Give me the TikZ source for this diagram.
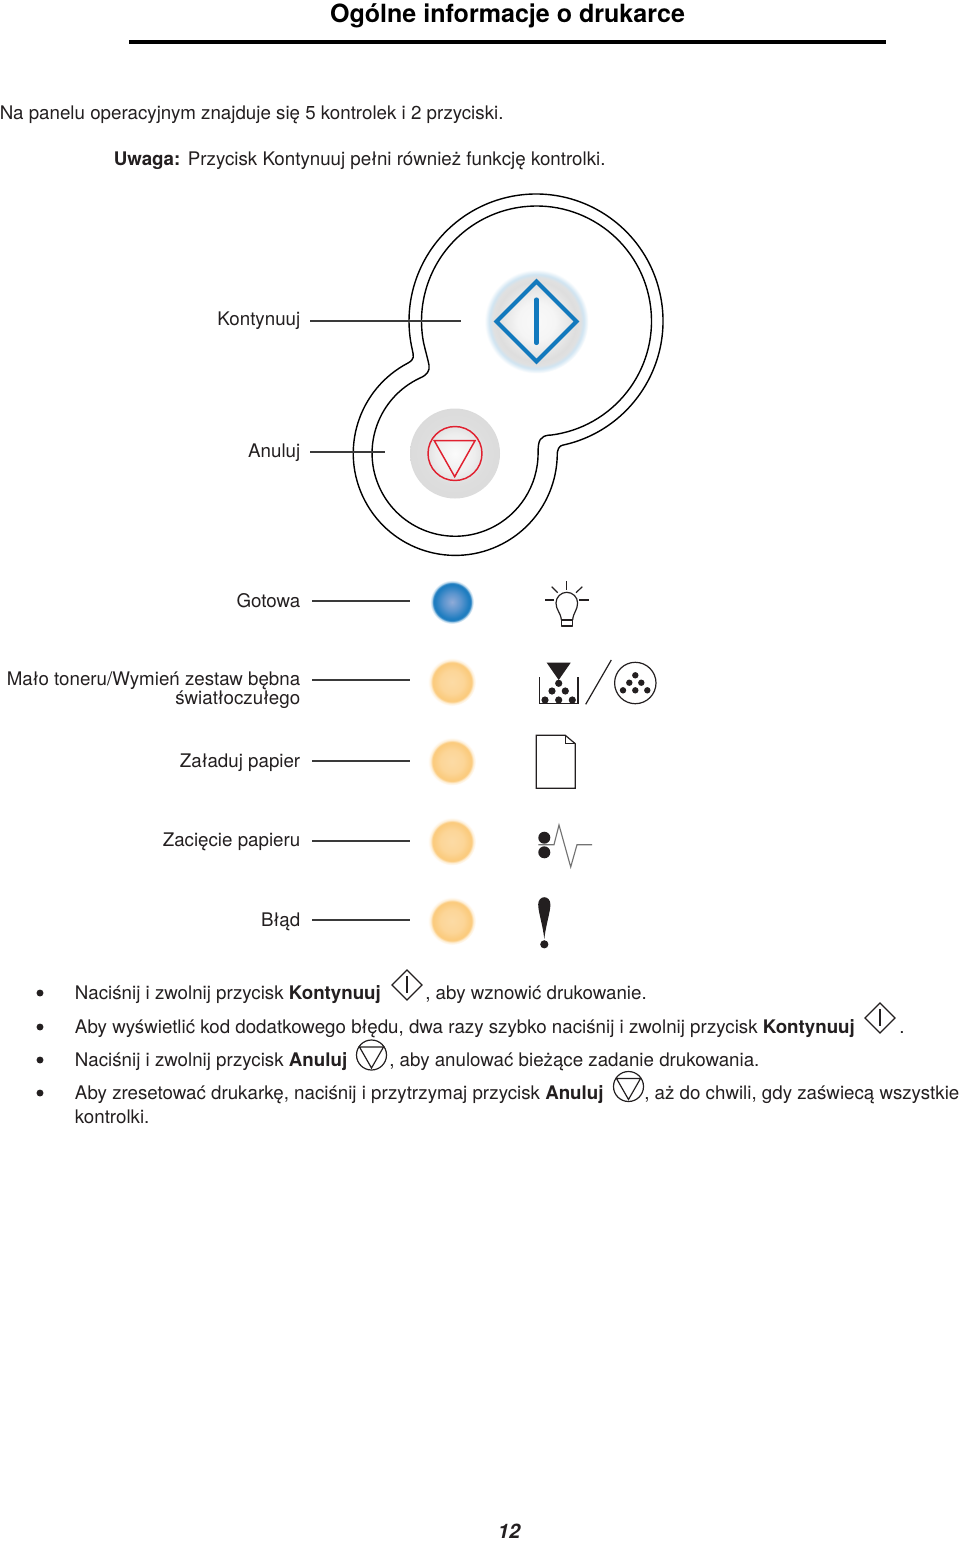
\documentclass[tikz,border=0pt]{standalone}
\usepackage{fontspec}
\setmainfont{TeX Gyre Heros}
\definecolor{ink}{HTML}{231F20}
\definecolor{lead}{HTML}{3A3A3A}
\definecolor{ledblue}{HTML}{1279BD}
\definecolor{cancelred}{HTML}{E0202F}
\pgfdeclareradialshading{contshade}{\pgfpointorigin}{color(0bp)=(white!95!gray); color(9bp)=(white!92!gray); color(19bp)=(black!13); color(21bp)=(black!12); color(22.6bp)=(ledblue!20); color(25bp)=(white); color(50bp)=(white)}
\pgfdeclareradialshading{cancshade}{\pgfpointorigin}{color(0bp)=(white!97!gray); color(11bp)=(black!7); color(17bp)=(black!13); color(25bp)=(black!14); color(50bp)=(black!14)}
\definecolor{ledb}{HTML}{1F7DC0}
\definecolor{ledc}{HTML}{8FABD8}
\definecolor{ledm}{HTML}{5C95CE}
\pgfdeclareradialshading{blueled}{\pgfpointorigin}{color(0bp)=(ledc); color(10bp)=(ledm); color(19bp)=(ledb); color(21.2bp)=(ledb); color(23bp)=(ledb!30!white); color(25bp)=(white); color(50bp)=(white)}
\definecolor{ledo}{HTML}{FBCB7E}
\pgfdeclareradialshading{orangeled}{\pgfpointorigin}{color(0bp)=(ledo!70!white); color(12bp)=(ledo!80!white); color(19bp)=(ledo); color(20.2bp)=(ledo); color(22.5bp)=(ledo!30!white); color(25bp)=(white); color(50bp)=(white)}
\tikzset{
  x=0.75pt,y=-0.75pt,
  bodytext/.style={font=\fontsize{14.05}{16}\selectfont,text=ink,inner sep=0pt},
  txtl/.style={bodytext,anchor=base west},
  txtr/.style={bodytext,anchor=base east},
  bul/.style={circle,fill=ink,inner sep=0pt,minimum size=5.2pt},
  leadline/.style={draw=lead,line width=0.8pt},
  shell/.style={draw=black,line width=1.05pt},
  iconline/.style={draw=ink,line width=0.9pt},
  minidot/.style={fill=ink},
}
\newcommand{\minidiamond}[2]{%
  \draw[iconline,line join=miter] (#1,#2-15) -- (#1+15,#2) -- (#1,#2+15) -- (#1-15,#2) -- cycle;
  \draw[iconline] (#1,#2-9) -- (#1,#2+8);}
\newcommand{\minicancel}[2]{%
  \draw[iconline] (#1,#2) circle[radius=15];
  \draw[iconline,line join=miter] (#1-12,#2-8) -- (#1+12,#2-8) -- (#1,#2+13) -- cycle;}
\begin{document}
\begin{tikzpicture}
\useasboundingbox (0,0) rectangle (960,1542);
\fill[white] (0,0) rectangle (960,1542);

% heading
\node[anchor=base,inner sep=0pt,text=black,font=\fontsize{18.8}{22}\selectfont\bfseries] (title) at (507.5,22) {Ogólne informacje o drukarce};
\coordinate (ruleL) at (129,42); \coordinate (ruleR) at (886,42);
\draw[black,line width=2.7pt] (ruleL) -- (ruleR);

\node[txtl] (intro) at (-0.5,119) {Na panelu operacyjnym znajduje się 5 kontrolek i 2 przyciski.};
\node[txtl] (uwaga) at (113.5,165) {\bfseries Uwaga:};
\node[txtl] (uwagat) at (187.5,165) {Przycisk Kontynuuj pełni również funkcję kontrolki.};

% outline of the panel
\path[shell] (536,321)+(77.7:127) arc[start angle=77.7,end angle=-193.2,radius=127]
  .. controls (413.5,356) and (415,359) .. (408,363)
  arc[start angle=242.4,end angle=2,radius=102]
  .. controls (557,449) and (559,446) .. (563,445);
\path[shell] (536.5,321)+(83.2:115) arc[start angle=83.2,end angle=-191,radius=115]
  .. controls (426,353) and (428,360) .. (429,365)
  .. controls (430,371) and (427,375) .. (420,378)
  arc[start angle=245,end angle=0,radius=83]
  .. controls (538,440) and (540,436) .. (550,435);

% buttons
\shade[shading=contshade] (536.5,321.5) circle[radius=52];
\draw[ledblue,line width=3.1pt,line join=miter] (536.5,281.5) -- (576.5,321.5) -- (536.5,361.5) -- (496.5,321.5) -- cycle;
\draw[ledblue,line width=3.1pt,line cap=round] (536.5,299.5) -- (536.5,343);
\shade[shading=cancshade] (455,453.5) circle[radius=45];
\draw[cancelred,line width=1.1pt] (455,453.5) circle[radius=27];
\draw[cancelred,line width=1.1pt,line join=miter] (434.3,440.7) -- (475,440.7) -- (454.7,476.7) -- cycle;

% LEDs
\shade[shading=blueled] (452,602) circle[radius=22];
\foreach \ly/\nm in {682/a,761.5/b,841.5/c,921/d}
  \shade[shading=orangeled] (452,\ly) circle[radius=24];

% labels
\node[txtr] (lKont) at (300.5,325) {Kontynuuj};
\node[txtr] (lAnul) at (300.5,457) {Anuluj};
\node[txtr] (lGot) at (300.5,607) {Gotowa};
\node[txtr] (lMalo) at (300.5,685) {Mało toneru/Wymień zestaw bębna};
\node[txtr] (lSwia) at (300.5,704) {światłoczułego};
\node[txtr] (lZal) at (300.5,767) {Załaduj papier};
\node[txtr] (lZac) at (300.5,846) {Zacięcie papieru};
\node[txtr] (lBlad) at (300.5,926) {Błąd};

% leaders
\coordinate (a1) at (310,321); \coordinate (a2) at (461,321);
\coordinate (b1) at (310,452); \coordinate (b2) at (385,452);
\coordinate (c1) at (312,601); \coordinate (c2) at (410,601);
\coordinate (d1) at (312,680); \coordinate (d2) at (410,680);
\coordinate (e1) at (312,761); \coordinate (e2) at (410,761);
\coordinate (f1) at (312,841); \coordinate (f2) at (410,841);
\coordinate (g1) at (312,920); \coordinate (g2) at (410,920);
\foreach \p/\q in {a1/a2,b1/b2,c1/c2,d1/d2,e1/e2,f1/f2,g1/g2}
  \path[leadline] (\p) -- (\q);

% bulb
\draw[iconline,line join=round] (561.4,620) -- (561.4,626) -- (572.6,626) -- (572.6,620) -- cycle;
\draw[iconline] (561.4,620) .. controls (560.5,612) and (556,610) .. (556,603)
  .. controls (556,597) and (561,592.3) .. (566.8,592.3)
  .. controls (572.6,592.3) and (577.6,597) .. (577.6,603)
  .. controls (577.6,610) and (573.5,612) .. (572.6,620);
\draw[iconline] (566.8,581) -- (566.8,590);
\draw[iconline] (545,600) -- (554,600);
\draw[iconline] (579.3,600) -- (588.7,600);
\draw[iconline] (551.7,586.7) -- (557.7,592.7);
\draw[iconline] (582.3,586.7) -- (576,592.7);

% toner
\fill[ink] (546.7,662.7) -- (570.7,662.7) -- (558.7,680) -- cycle;
\foreach \dx/\dy in {558.7/683.3,552/691,565.3/691,545/700,558.7/700,572.3/700}
  \fill[minidot] (\dx,\dy) circle[radius=3.6];
\draw[iconline,line join=miter] (539.3,677.3) -- (539.3,703.7) -- (578,703.7) -- (578,677.3);
\draw[iconline] (585.7,704.3) -- (611.3,660);
\draw[iconline] (635.3,683) circle[radius=20.7];
\foreach \dx/\dy in {635.3/675.3,629.3/682.7,641.3/682.7,623/690.3,635.3/690.3,647.3/690.3}
  \fill[minidot] (\dx,\dy) circle[radius=3.2];

% paper
\draw[iconline,line join=miter] (536.3,735.3) -- (565.3,735.3) -- (575.3,743.7) -- (575.3,788.3) -- (536.3,788.3) -- cycle;
\draw[iconline,line join=miter] (565.3,735.3) -- (565.3,743.7) -- (575.3,743.7);

% jam
\draw[draw=black!55,line width=0.85pt,line join=miter] (538.3,844.7) -- (554,844.7) -- (559,825) -- (570.7,867) -- (577,844.7) -- (592,844.7);
\fill[minidot] (544.3,837.7) circle[radius=6];
\fill[minidot] (544.3,852.3) circle[radius=6];

% error
\fill[ink] (544.3,939) .. controls (542.8,925) and (538.2,912) .. (538.2,904.5)
  .. controls (538.2,900) and (541,897.2) .. (544.3,897.2)
  .. controls (547.6,897.2) and (550.4,900) .. (550.4,904.5)
  .. controls (550.4,912) and (545.8,925) .. (544.3,939) -- cycle;
\fill[ink] (544.3,944.3) circle[radius=4.1];

% bullets
\node[bul] (bu1) at (40,993) {};
\node[bul] (bu2) at (40,1027) {};
\node[bul] (bu3) at (40,1060) {};
\node[bul] (bu4) at (40,1093) {};

\node[txtl] (t1a) at (74.7,999) {Naciśnij i zwolnij przycisk \textbf{Kontynuuj}};
\node[txtl] (t1b) at (425,999) {, aby wznowić drukowanie.};
\minidiamond{407}{985}
\node[txtl] (t2a) at (74.7,1033) {Aby wyświetlić kod dodatkowego błędu, dwa razy szybko naciśnij i zwolnij przycisk \textbf{Kontynuuj}};
\node[txtl] (t2b) at (899,1033) {.};
\minidiamond{880}{1018}
\node[txtl] (t3a) at (74.7,1066) {Naciśnij i zwolnij przycisk \textbf{Anuluj}};
\node[txtl] (t3b) at (389,1066) {, aby anulować bieżące zadanie drukowania.};
\minicancel{371.5}{1055}
\node[txtl] (t4a) at (74.7,1099) {Aby zresetować drukarkę, naciśnij i przytrzymaj przycisk \textbf{Anuluj}};
\node[txtl] (t4b) at (644,1099) {, aż do chwili, gdy zaświecą wszystkie};
\minicancel{628.5}{1086.5}
\node[txtl] (t4c) at (74.7,1123) {kontrolki.};

\node[anchor=base,inner sep=0pt,text=ink,font=\fontsize{15}{18}\selectfont\bfseries\itshape] (pageno) at (509,1538) {12};
\end{tikzpicture}
\end{document}
